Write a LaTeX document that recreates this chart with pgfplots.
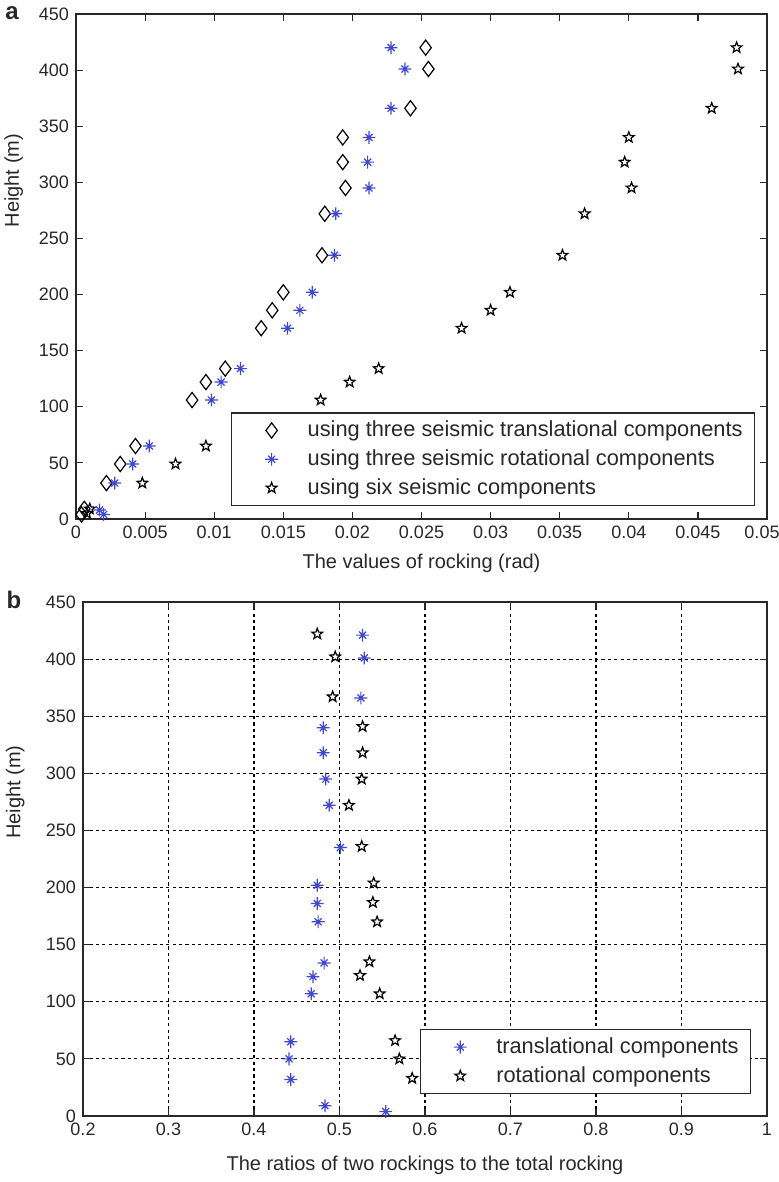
\documentclass[border=0pt]{standalone}
\usepackage{fontspec}
\setmainfont{Liberation Sans}
\usepackage{pgfplots}
\pgfplotsset{compat=1.18}
\usetikzlibrary{plotmarks}

\definecolor{mblue}{RGB}{64,72,208}
\definecolor{axgray}{RGB}{40,40,40}

% matlab '*' marker
\pgfdeclareplotmark{mlstar}{%
  \pgfpathmoveto{\pgfqpoint{0pt}{\pgfplotmarksize}}\pgfpathlineto{\pgfqpoint{0pt}{-\pgfplotmarksize}}%
  \pgfpathmoveto{\pgfqpoint{\pgfplotmarksize}{0pt}}\pgfpathlineto{\pgfqpoint{-\pgfplotmarksize}{0pt}}%
  \pgfpathmoveto{\pgfqpoint{0.55\pgfplotmarksize}{0.55\pgfplotmarksize}}\pgfpathlineto{\pgfqpoint{-0.55\pgfplotmarksize}{-0.55\pgfplotmarksize}}%
  \pgfpathmoveto{\pgfqpoint{0.55\pgfplotmarksize}{-0.55\pgfplotmarksize}}\pgfpathlineto{\pgfqpoint{-0.55\pgfplotmarksize}{0.55\pgfplotmarksize}}%
  \pgfusepathqstroke}
% matlab 'p' marker (open pentagram)
\pgfdeclareplotmark{pgram}{%
  \pgfpathmoveto{\pgfpointpolar{90}{\pgfplotmarksize}}%
  \pgfpathlineto{\pgfpointpolar{126}{0.42\pgfplotmarksize}}%
  \pgfpathlineto{\pgfpointpolar{162}{\pgfplotmarksize}}%
  \pgfpathlineto{\pgfpointpolar{198}{0.42\pgfplotmarksize}}%
  \pgfpathlineto{\pgfpointpolar{234}{\pgfplotmarksize}}%
  \pgfpathlineto{\pgfpointpolar{270}{0.42\pgfplotmarksize}}%
  \pgfpathlineto{\pgfpointpolar{306}{\pgfplotmarksize}}%
  \pgfpathlineto{\pgfpointpolar{342}{0.42\pgfplotmarksize}}%
  \pgfpathlineto{\pgfpointpolar{18}{\pgfplotmarksize}}%
  \pgfpathlineto{\pgfpointpolar{54}{0.42\pgfplotmarksize}}%
  \pgfpathclose\pgfusepathqstroke}

\pgfplotsset{
  mstyle/.style={
    scale only axis,
    clip=false,
    axis line style={axgray,line width=0.6pt},
    tick style={axgray,line width=0.6pt},
    tick align=inside,
    major tick length=3.5pt,
    ymin=0, ymax=450,
    ytick={0,50,...,450},
    ticklabel style={font=\fontsize{9}{11}\selectfont,text=axgray},
    /pgf/number format/assume math mode=true,
    label style={font=\fontsize{10}{12}\selectfont,text=axgray},
    legend cell align=left,
    legend style={draw=axgray,line width=0.6pt,font=\fontsize{10.9}{12.5}\selectfont,
      inner xsep=4pt,inner ysep=2pt,row sep=1pt,text=axgray},
    legend image code/.code={\path[mark repeat=2,mark phase=2,##1]
      plot coordinates {(0pt,0pt) (16pt,0pt) (32pt,0pt)};},
  },
  % marks without connecting line
  om/.style={draw=none,line width=0.6pt,mark options={draw=#1,solid},color=#1},
}

\begin{document}
\begin{tikzpicture}
\useasboundingbox (0pt,0pt) rectangle (389.5pt,-591pt);

\begin{axis}[mstyle,
  at={(38pt,-7pt)}, anchor=north west,
  width=345.5pt, height=252.5pt,
  xmin=0, xmax=0.05,
  xtick={0,0.005,...,0.05},
  xticklabels={0,0.005,0.01,0.015,0.02,0.025,0.03,0.035,0.04,0.045,0.05\hspace*{5pt}},
  scaled x ticks=false,
  xlabel={The values of rocking (rad)},
  ylabel={Height (m)},
  xlabel style={at={(axis description cs:0.5,-0.088)},anchor=center},
  ylabel style={at={(axis description cs:-0.09,0.67)},anchor=center,rotate=0},
  legend style={at={(rel axis cs:0.983,0.0257)},anchor=south east},
]
\addplot[om=black,mark=diamond,mark size=3.8pt] coordinates {
  (0.0253,420)(0.0255,401)(0.0242,366)(0.0193,340)(0.0193,318)(0.0195,295)
  (0.0180,272)(0.0178,235)(0.0150,202)(0.0142,186)(0.0134,170)(0.0108,134)
  (0.0094,122)(0.0084,106)(0.0043,65)(0.0032,49)(0.0022,32)(0.0006,9)(0.0004,4)
};
\addlegendentry{using three seismic translational components}
\addplot[om=mblue,mark=mlstar,mark size=3.2pt] coordinates {
  (0.0228,420)(0.0238,401)(0.0228,366)(0.0212,340)(0.0211,318)(0.0212,295)
  (0.0188,272)(0.0187,235)(0.0171,202)(0.0162,186)(0.0153,170)(0.0119,134)
  (0.0105,122)(0.0098,106)(0.0053,65)(0.0041,49)(0.0028,32)(0.0017,8)(0.0020,4)
};
\addlegendentry{using three seismic rotational components}
\addplot[om=black,mark=pgram,mark size=2.8pt] coordinates {
  (0.0478,420)(0.0479,401)(0.0460,366)(0.0400,340)(0.0397,318)(0.0402,295)
  (0.0368,272)(0.0352,235)(0.0314,202)(0.0300,186)(0.0279,170)(0.0219,134)
  (0.0198,122)(0.0177,106)(0.0094,65)(0.0072,49)(0.0048,32)(0.0010,9)(0.0008,5)
};
\addlegendentry{using six seismic components}
\end{axis}

\begin{axis}[mstyle,
  at={(41.5pt,-301pt)}, anchor=north west,
  width=342pt, height=257pt,
  xmin=0.2, xmax=1,
  xtick={0.2,0.3,...,1.0},
  xticklabels={0.2,0.3,0.4,0.5,0.6,0.7,0.8,0.9,1},
  grid=major,
  grid style={black,line width=0.55pt,dash pattern=on 1.6pt off 1.6pt},
  xlabel={The ratios of two rockings to the total rocking},
  ylabel={Height (m)},
  xlabel style={at={(axis description cs:0.5,-0.095)},anchor=center},
  ylabel style={at={(axis description cs:-0.099,0.63)},anchor=center,rotate=0},
  legend style={at={(rel axis cs:0.977,0.043)},anchor=south east},
]
\addplot[om=mblue,mark=mlstar,mark size=3.2pt] coordinates {
  (0.527,421)(0.529,401)(0.525,366)(0.481,340)(0.481,318)(0.484,295)
  (0.488,272)(0.501,235)(0.474,202)(0.474,186)(0.475,170)(0.482,134)
  (0.469,122)(0.467,107)(0.443,65)(0.441,50)(0.443,32)(0.483,9)(0.554,4)
};
\addlegendentry{translational components}
\addplot[om=black,mark=pgram,mark size=2.8pt] coordinates {
  (0.474,422)(0.495,402)(0.492,367)(0.527,341)(0.527,318)(0.526,295)
  (0.511,272)(0.526,236)(0.540,204)(0.539,187)(0.544,170)(0.535,135)
  (0.524,123)(0.547,107)(0.565,66)(0.570,50)(0.585,33)
};
\addlegendentry{rotational components}
\end{axis}

\node[font=\fontsize{12}{14}\selectfont\bfseries,text=axgray] at (6pt,-6.5pt) {a};
\node[font=\fontsize{12}{14}\selectfont\bfseries,text=axgray] at (7pt,-300pt) {b};
\end{tikzpicture}
\end{document}
